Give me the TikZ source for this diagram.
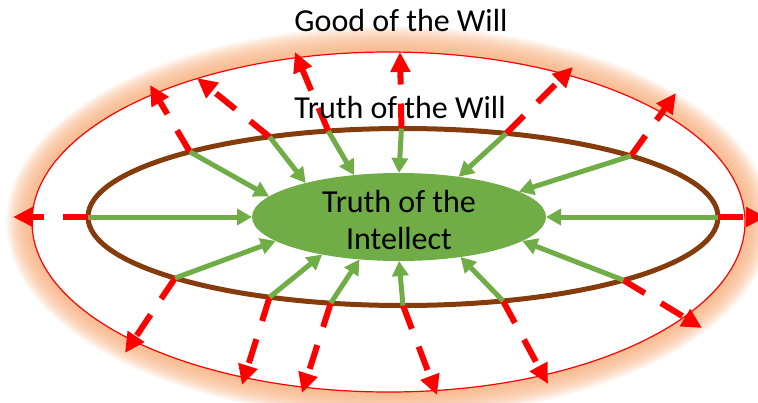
\documentclass[tikz,border=0pt]{standalone}
\usepackage{fontspec}
\setmainfont{Carlito}
\definecolor{willbrown}{RGB}{132,60,12}
\definecolor{intellectgreen}{RGB}{112,173,71}
\definecolor{glowpeach}{RGB}{247,175,125}
\usetikzlibrary{shapes.geometric, arrows.meta}

\tikzset{
  ring/.style={ellipse, inner sep=0pt, outer sep=0pt},
  truthline/.style={draw=intellectgreen, line width=5pt, -{Triangle[length=15pt, width=16pt]}},
  goodline/.style={draw=red, line width=6pt, dash pattern=on 25pt off 19pt, -{Triangle[length=20pt, width=19pt]}},
  willtext/.style={font=\fontsize{32}{37}\selectfont, align=center}
}

\begin{document}
\begin{tikzpicture}[x=1pt, y=-1pt]
\useasboundingbox (0,0) rectangle (758,402);

% soft orange glow round the outer ring
\foreach \k in {26,25,...,1}
  \fill[glowpeach, opacity=0.065] (388.5,222) ellipse [x radius=356.5+\k, y radius=170+\k];

\node[ring, draw=red, line width=1.2pt, fill=white, minimum width=713pt, minimum height=340pt] (good) at (388.5,222) {};
\node[ring, draw=willbrown, line width=5pt, minimum width=630pt, minimum height=177pt] (will) at (403,217) {};
\node[ring, fill=intellectgreen, minimum width=294pt, minimum height=88pt] (intellect) at (399,217) {};

% spokes: angle on the brown ring / angle on the green core / red tip
\foreach \b/\g/\tx/\ty [count=\i] in {163.8/171.3/150/85, 149.2/160.1/197/78, 131.1/137.6/295/52,
    91.9/90/400/52, 39.7/34.9/573/67, 15.9/12.3/676/93, 180/180/13/217, 0/0/766/217,
    195.9/191.2/125/353, 211.0/206.3/242/385, 230.7/227.8/302/393, 270/270/437/395,
    320.6/327.4/548/384, 344.6/349.0/702/328} {
  \coordinate (tip\i) at (\tx,\ty);
  \draw[goodline] (will.\b) -- (tip\i);
  \draw[truthline] (will.\b) -- (intellect.\g);
}

\node[willtext] (intellectlabel) at ([yshift=-3pt]intellect.center) {Truth of the\\Intellect};
\node[willtext] (willlabel) at (400,108) {Truth of the Will};
\node[willtext] (goodlabel) at (401,21) {Good of the Will};
\end{tikzpicture}
\end{document}
